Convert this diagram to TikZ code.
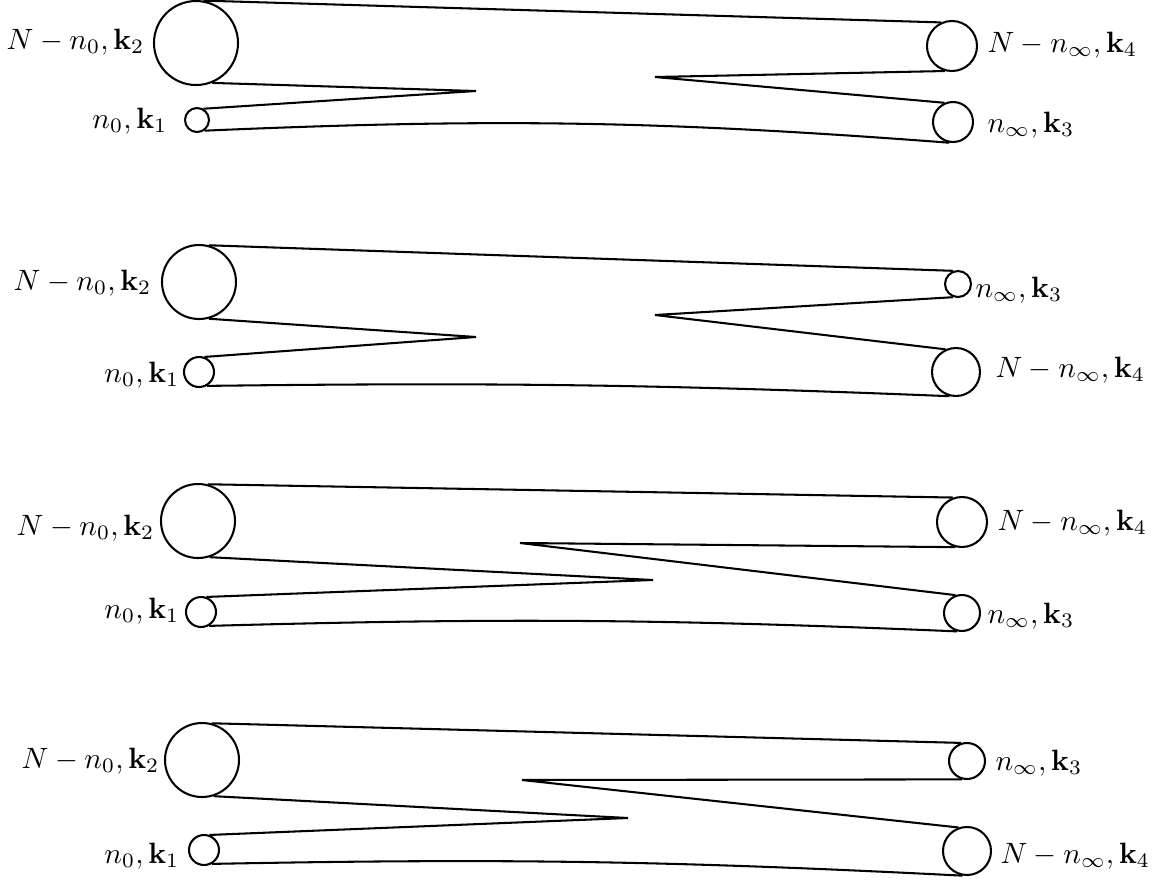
\documentclass[tikz,border=0pt]{standalone}
\begin{document}
\begin{tikzpicture}[x=0.34pt,y=0.34pt,
  bub/.style={circle,draw,line width=0.7pt,inner sep=0pt,minimum size=#1*0.68pt},
  lbl/.style={inner sep=0pt},
  tube/.style={line width=0.7pt,line join=miter}]
\useasboundingbox (0,0) rectangle (1156,-881);
% ---------- panel 1 ----------
\node[bub=42] (A1) at (196,-43) {};
\node[bub=12] (B1) at (197,-120) {};
\node[bub=25] (C1) at (952,-46) {};
\node[bub=20] (D1) at (953,-122) {};
\coordinate (P1) at (476,-91);
\coordinate (Q1) at (655,-77);
\draw[tube] (A1.80) -- (C1.115);
\draw[tube] (A1.-68) -- (P1) -- (B1.60);
\draw[tube] (B1.-55) to[bend left=3.4] (D1.-100);
\draw[tube] (C1.-106) -- (Q1) -- (D1.114);
\node[lbl,anchor=base east] (lA1) at (145,-49) {$N-n_0,\mathbf{k}_2$};
\node[lbl,anchor=base east] (lB1) at (168,-128) {$n_0,\mathbf{k}_1$};
\node[lbl,anchor=base west] (lC1) at (987,-52) {$N-n_\infty,\mathbf{k}_4$};
\node[lbl,anchor=base west] (lD1) at (987,-132) {$n_\infty,\mathbf{k}_3$};
% ---------- panel 2 ----------
\node[bub=37] (A2) at (199,-282) {};
\node[bub=15] (B2) at (199,-372) {};
\node[bub=13] (C2) at (958,-284) {};
\node[bub=24] (D2) at (956,-372) {};
\coordinate (P2) at (476,-337);
\coordinate (Q2) at (655,-315);
\draw[tube] (A2.75) -- (C2.110);
\draw[tube] (A2.-75) -- (P2) -- (B2.70);
\draw[tube] (C2.-110) -- (Q2) -- (D2.115);
\draw[tube] (B2.-60) to[bend left=1.5] (D2.-105);
\node[lbl,anchor=base east] (lA2) at (152,-290) {$N-n_0,\mathbf{k}_2$};
\node[lbl,anchor=base east] (lB2) at (180,-382) {$n_0,\mathbf{k}_1$};
\node[lbl,anchor=base west] (lC2) at (975,-297) {$n_\infty,\mathbf{k}_3$};
\node[lbl,anchor=base west] (lD2) at (995,-377) {$N-n_\infty,\mathbf{k}_4$};
% ---------- panel 3 ----------
\node[bub=37] (A3) at (198,-521) {};
\node[bub=15] (B3) at (201,-612) {};
\node[bub=25] (C3) at (962,-522) {};
\node[bub=18] (D3) at (962,-613) {};
\coordinate (P3) at (653,-580);
\coordinate (Q3) at (520,-543);
\draw[tube] (A3.75) -- (C3.110);
\draw[tube] (A3.-72) -- (P3) -- (B3.70);
\draw[tube] (C3.-105) -- (Q3) -- (D3.110);
\draw[tube] (B3.-60) to[bend left=2] (D3.-105);
\node[lbl,anchor=base east] (lA3) at (155,-535) {$N-n_0,\mathbf{k}_2$};
\node[lbl,anchor=base east] (lB3) at (180,-618) {$n_0,\mathbf{k}_1$};
\node[lbl,anchor=base west] (lC3) at (997,-530) {$N-n_\infty,\mathbf{k}_4$};
\node[lbl,anchor=base west] (lD3) at (987,-623) {$n_\infty,\mathbf{k}_3$};
% ---------- panel 4 ----------
\node[bub=37] (A4) at (202,-760) {};
\node[bub=15] (B4) at (204,-850) {};
\node[bub=18] (C4) at (967,-761) {};
\node[bub=24] (D4) at (967,-851) {};
\coordinate (P4) at (628,-818);
\coordinate (Q4) at (522,-780);
\draw[tube] (A4.75) -- (C4.108);
\draw[tube] (A4.-72) -- (P4) -- (B4.70);
\draw[tube] (C4.-105) -- (Q4) -- (D4.110);
\draw[tube] (B4.-60) to[bend left=2] (D4.-100);
\node[lbl,anchor=base east] (lA4) at (160,-768) {$N-n_0,\mathbf{k}_2$};
\node[lbl,anchor=base east] (lB4) at (180,-863) {$n_0,\mathbf{k}_1$};
\node[lbl,anchor=base west] (lC4) at (995,-770) {$n_\infty,\mathbf{k}_3$};
\node[lbl,anchor=base west] (lD4) at (1000,-863) {$N-n_\infty,\mathbf{k}_4$};
\end{tikzpicture}
\end{document}
